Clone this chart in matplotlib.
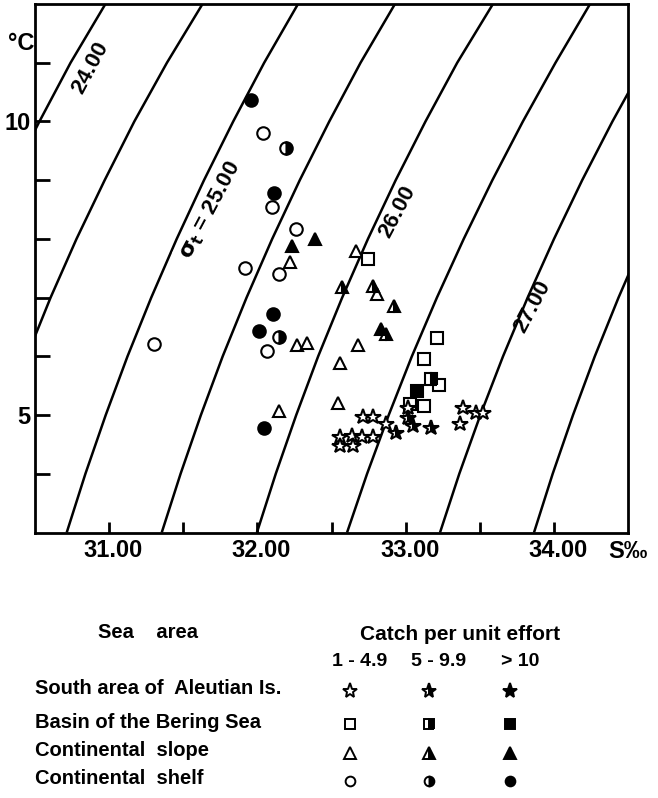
import matplotlib
matplotlib.use("Agg")
import matplotlib.pyplot as plt
import matplotlib.transforms as mtransforms

plt.rcParams['font.family'] = ['Liberation Sans', 'DejaVu Sans']
plt.rcParams['font.weight'] = 'bold'
plt.rcParams['mathtext.default'] = 'bf'

# ---------------- data ----------------
# sigma-t isopleths (salinity read at given temperatures)
iso_T = [3, 4, 5, 6, 7, 8, 9, 10, 11, 12]
iso_240_T = [9.5, 10, 11, 12]
iso_240_S = [30.43, 30.53, 30.74, 30.975]
iso_245_T = [5, 6, 7, 8, 9, 10, 11, 12]
iso_245_S = [30.30, 30.445, 30.605, 30.78, 30.97, 31.17, 31.39, 31.63]
iso_250_S = [30.714, 30.840, 30.977, 31.124, 31.284, 31.456, 31.640, 31.837, 32.046, 32.274]
iso_255_S = [31.355, 31.482, 31.619, 31.766, 31.927, 32.100, 32.286, 32.485, 32.696, 32.928]
iso_260_S = [31.997, 32.124, 32.262, 32.410, 32.572, 32.746, 32.933, 33.134, 33.348, 33.589]
iso_265_S = [32.605, 32.740, 32.886, 33.042, 33.211, 33.392, 33.585, 33.791, 34.011, 34.244]
iso_270_S = [33.232, 33.362, 33.504, 33.657, 33.823, 34.001, 34.191, 34.395, 34.614, 34.850]
iso_275_T = [3, 4, 5, 6, 7, 8]
iso_275_S = [33.866, 33.992, 34.129, 34.276, 34.436, 34.608]

# isopleth labels: text, salinity, temperature
iso_label_text = ["24.00", r"$\sigma_t$ = 25.00", "26.00", "27.00"]
iso_label_S = [30.871, 31.680, 32.942, 33.859]
iso_label_T = [10.91, 8.49, 8.455, 6.84]

# Continental shelf (circles)
shelf_open_S = [32.038, 32.099, 32.261, 31.917, 32.146, 32.065, 31.303]
shelf_open_T = [9.80, 8.54, 8.17, 7.50, 7.40, 6.09, 6.21]
shelf_half_S = [32.193, 32.146]
shelf_half_T = [9.55, 6.33]
shelf_full_S = [31.955, 32.112, 32.105, 32.011, 32.045]
shelf_full_T = [10.37, 8.78, 6.72, 6.43, 4.78]

# Continental slope (triangles)
slope_open_S = [32.220, 32.665, 32.807, 32.267, 32.335, 32.679, 32.557, 32.544, 32.146]
slope_open_T = [7.61, 7.79, 7.06, 6.19, 6.23, 6.19, 5.89, 5.21, 5.07]
slope_half_S = [32.571, 32.780, 32.922, 32.868]
slope_half_T = [7.18, 7.20, 6.86, 6.38]
slope_full_S = [32.389, 32.234, 32.834]
slope_full_T = [8.00, 7.88, 6.47]

# Basin of the Bering Sea (squares)
basin_open_S = [32.746, 33.212, 33.124, 33.225, 33.030, 33.124]
basin_open_T = [7.66, 6.31, 5.95, 5.51, 5.19, 5.15]
basin_half_S = [33.171]
basin_half_T = [5.61]
basin_full_S = [33.077]
basin_full_T = [5.41]

# South area of Aleutian Is. (stars)
aleut_open_S = [32.712, 32.780, 32.868, 33.016, 33.387, 33.475, 33.522, 33.367,
                32.557, 32.638, 32.706, 32.780, 32.557, 32.645]
aleut_open_T = [4.97, 4.97, 4.85, 5.12, 5.12, 5.04, 5.04, 4.85,
                4.63, 4.64, 4.63, 4.63, 4.47, 4.47]
aleut_half_S = [32.935, 33.016, 33.050, 33.171]
aleut_half_T = [4.69, 4.95, 4.81, 4.78]

x_ticks = [31.0, 31.5, 32.0, 32.5, 33.0, 33.5, 34.0]
x_tick_labels = ["31.00", "", "32.00", "", "33.00", "", "34.00"]
y_ticks = [4, 5, 6, 7, 8, 9, 10, 11]
y_tick_labels = ["", "5", "", "", "", "", "10", ""]

area_names = ["South area of  Aleutian Is.", "Basin of the Bering Sea",
              "Continental  slope", "Continental  shelf"]
catch_classes = ["1 - 4.9", "5 - 9.9", "> 10"]

# ---------------- figure ----------------
W, H = 658, 798
fig = plt.figure(figsize=(W / 100, H / 100), dpi=100)
ax = fig.add_axes([35 / W, 1 - 532.5 / H, 593 / W, 528.5 / H])
ax.set_xlim(30.5, 34.5)
ax.set_ylim(3, 12)

lw_iso = 1.8
for S, T in [(iso_240_S, iso_240_T), (iso_245_S, iso_245_T), (iso_250_S, iso_T),
             (iso_255_S, iso_T), (iso_260_S, iso_T), (iso_265_S, iso_T),
             (iso_270_S, iso_T), (iso_275_S, iso_275_T)]:
    ax.plot(S, T, color='black', lw=lw_iso, solid_capstyle='butt', zorder=2)

for i, (txt, s, t) in enumerate(zip(iso_label_text, iso_label_S, iso_label_T)):
    kw = {}
    if i == 1:
        kw['bbox'] = dict(facecolor='white', edgecolor='none', pad=1.5)
    ax.text(s, t, txt, rotation=62, ha='center', va='center', fontsize=16,
            rotation_mode='anchor', zorder=3, **kw)

ms = 9
mew = 1.5


def pts(S, T, marker, fill, size=ms):
    if fill == 'open':
        ax.plot(S, T, ls='none', marker=marker, ms=size, mfc='white', mec='black',
                mew=mew, zorder=4)
    elif fill == 'half':
        ax.plot(S, T, ls='none', marker=marker, ms=size, mfc='black', mec='black',
                mfcalt='white', fillstyle='right', mew=mew, zorder=4)
    else:
        ax.plot(S, T, ls='none', marker=marker, ms=size, mfc='black', mec='black',
                mew=mew, zorder=4)


pts(shelf_open_S, shelf_open_T, 'o', 'open')
pts(shelf_half_S, shelf_half_T, 'o', 'half')
pts(shelf_full_S, shelf_full_T, 'o', 'full')
pts(slope_open_S, slope_open_T, '^', 'open')
pts(slope_half_S, slope_half_T, '^', 'half')
pts(slope_full_S, slope_full_T, '^', 'full')
pts(basin_open_S, basin_open_T, 's', 'open', 8.5)
pts(basin_half_S, basin_half_T, 's', 'half', 8.5)
pts(basin_full_S, basin_full_T, 's', 'full', 8.5)
pts(aleut_open_S, aleut_open_T, '*', 'open', 11.5)
pts(aleut_half_S, aleut_half_T, '*', 'half', 11.5)

for sp in ax.spines.values():
    sp.set_linewidth(2.0)
ax.set_xticks(x_ticks)
ax.set_xticklabels(x_tick_labels)
ax.set_yticks(y_ticks)
ax.set_yticklabels(y_tick_labels)
ax.tick_params(axis='x', direction='in', length=8, width=2, labelsize=17, pad=5)
ax.tick_params(axis='y', direction='in', length=11, width=2, labelsize=17, pad=3)
offset = mtransforms.ScaledTranslation(4 / 100, 0, fig.dpi_scale_trans)
for lab in ax.get_xticklabels():
    lab.set_transform(lab.get_transform() + offset)

fig.text(608 / W, 1 - 552 / H, "S‰", fontsize=17, ha='left', va='center')
fig.text(21 / W, 1 - 44 / H, "°C", fontsize=17, ha='center', va='center')

# ---------------- legend table ----------------
fig.text(148 / W, 1 - 633 / H, "Sea    area", fontsize=14.5, ha='center', va='center')
fig.text(460 / W, 1 - 634 / H, "Catch per unit effort", fontsize=15, ha='center', va='center')
col_x = [350, 429, 510]
for cx, c in zip(col_x, catch_classes):
    fig.text((cx + 10) / W, 1 - 662 / H, c, fontsize=14, ha='center', va='center')

row_y = [689, 722, 751, 779]
row_marker = ['*', 's', '^', 'o']
row_size = [11, 7, 8, 7]
leg = fig.add_axes([0, 0, 1, 1], facecolor='none')
leg.set_xlim(0, W)
leg.set_ylim(H, 0)
leg.axis('off')
for ry, name, mk, sz in zip(row_y, area_names, row_marker, row_size):
    fig.text(35 / W, 1 - ry / H, name, fontsize=14.5, ha='left', va='center')
    for cx, fill in zip(col_x, ['open', 'half', 'full']):
        kw = dict(ls='none', marker=mk, ms=sz, mec='black', mew=1.4)
        if fill == 'open':
            kw.update(mfc='white')
        elif fill == 'half':
            kw.update(mfc='black', mfcalt='white', fillstyle='right')
        else:
            kw.update(mfc='black')
        leg.plot([cx], [ry + 2], **kw)

fig.savefig("out.png", dpi=100)
